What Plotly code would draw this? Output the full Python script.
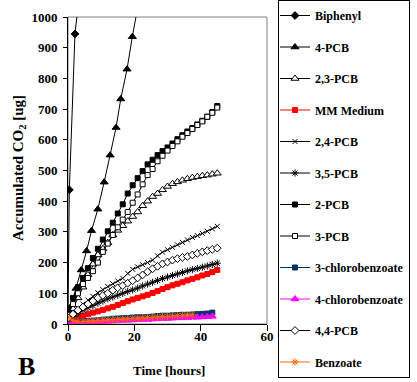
import plotly.graph_objects as go

# ---------------- data ----------------
t_grid = [0, 1.5, 3, 4.5, 6, 7.5, 9, 10.5, 12, 13.5, 15, 16.5, 18, 19.5, 21, 22.5,
          24, 25.5, 27, 28.5, 30, 31.5, 33, 34.5, 36, 37.5, 39, 40.5, 42, 43.5, 45]

biphenyl_t = [0, 0.4, 2.1, 3.5]
biphenyl_y = [40, 437, 945, 1080]

pcb4_t = [0, 0.8, 2.4, 4.0, 5.6, 7.1, 9.0, 10.9, 12.7, 14.5, 15.9, 17.8, 19.4, 21.0]
pcb4_y = [40, 56, 116, 176, 238, 304, 374, 462, 550, 640, 733, 830, 936, 1030]

pcb23_y = [25, 50, 85, 120, 160, 195, 225, 245, 265, 290, 305, 320, 335, 350, 365, 385,
           400, 415, 425, 437, 448, 457, 463, 468, 473, 477, 480, 483, 485, 488, 491]

mm_y = [8, 15, 22, 27, 32, 37, 41, 46, 51, 56, 62, 68, 74, 80, 85, 90,
        95, 101, 107, 114, 120, 126, 131, 136, 142, 147, 152, 158, 163, 169, 176]

pcb24_y = [25, 38, 52, 65, 78, 90, 102, 112, 122, 131, 140, 149, 165, 178, 186, 193,
           200, 208, 222, 234, 242, 250, 258, 266, 274, 282, 288, 295, 302, 310, 318]

pcb35_y = [15, 25, 35, 45, 53, 60, 68, 75, 82, 88, 94, 100, 106, 111, 117, 124,
           130, 136, 142, 148, 153, 158, 163, 168, 173, 177, 181, 185, 189, 194, 198]

pcb2_y = [40, 85, 120, 150, 182, 215, 245, 275, 302, 330, 360, 390, 425, 452, 475, 498,
          520, 535, 550, 563, 575, 588, 602, 615, 627, 638, 650, 662, 675, 690, 710]

pcb3_y = [30, 65, 100, 130, 150, 172, 200, 235, 262, 290, 315, 340, 365, 395, 422, 455,
          485, 505, 530, 548, 565, 580, 595, 610, 622, 635, 648, 660, 675, 688, 705]

cb3_t = t_grid[:30]
cb3_y = [5, 6, 8, 9, 10, 11, 12, 14, 15, 17, 18, 19, 20, 21, 22, 22,
         23, 24, 26, 27, 27, 28, 29, 30, 30, 31, 32, 33, 34, 37]

cb4_t = t_grid[:30]
cb4_y = [0, 2, 3, 4, 5, 6, 7, 8, 9, 10, 11, 12, 12, 13, 14, 15,
         15, 16, 17, 18, 18, 19, 20, 20, 21, 22, 22, 23, 24, 25]

pcb44_y = [20, 32, 45, 55, 65, 75, 85, 93, 100, 110, 118, 125, 133, 141, 150, 160,
           170, 180, 188, 196, 202, 208, 213, 217, 220, 225, 230, 235, 239, 243, 247]

benz_t = t_grid[:26]
benz_y = [22, 12, 8, 8, 9, 10, 11, 12, 13, 14, 15, 16, 17, 18, 19, 20,
          21, 22, 23, 24, 25, 26, 27, 28, 29, 30]

x_ticks = [0, 20, 40, 60]
y_ticks = [0, 100, 200, 300, 400, 500, 600, 700, 800, 900, 1000]

# ---------------- figure ----------------
FONT = "Liberation Serif"
fig = go.Figure()

def add(name, x, y, symbol, color="black", size=5, fill=None, lw=1, mlw=1):
    mk = dict(symbol=symbol, size=size, color=fill if fill is not None else color,
              line=dict(color=color, width=mlw))
    fig.add_trace(go.Scatter(x=x, y=y, name="<b>" + name + "</b>", mode="lines+markers",
                             line=dict(color=color, width=lw), marker=mk,
                             legendgroup=name))

add("Biphenyl", biphenyl_t, biphenyl_y, "diamond", size=6)
add("4-PCB", pcb4_t, pcb4_y, "triangle-up", size=7)
add("2,3-PCB", t_grid, pcb23_y, "triangle-up", size=7, fill="white")
add("MM Medium", t_grid, mm_y, "square", color="#ff0000", size=5)
add("2,4-PCB", t_grid, pcb24_y, "x-thin-open", size=5)
add("3,5-PCB", t_grid, pcb35_y, "asterisk-open", size=6)
add("2-PCB", t_grid, pcb2_y, "square", size=5)
add("3-PCB", t_grid, pcb3_y, "square", size=5, fill="white")
add("3-chlorobenzoate", cb3_t, cb3_y, "square", color="#003366", size=5)
add("4-chlorobenzoate", cb4_t, cb4_y, "triangle-up", color="#ff00ff", size=7)
add("4,4-PCB", t_grid, pcb44_y, "diamond", size=6, fill="white")
add("Benzoate", benz_t, benz_y, "asterisk-open", color="#ff6600", size=6)

axis_font = dict(family=FONT, size=13, color="black")

fig.update_layout(
    width=417, height=382,
    margin=dict(l=68, r=150, t=17, b=58, autoexpand=False),
    paper_bgcolor="white", plot_bgcolor="white",
    showlegend=True,
    legend=dict(
        xref="container", yref="container",
        x=278 / 417, y=1.01, xanchor="left", yanchor="top",
        bordercolor="black", borderwidth=1, bgcolor="white",
        font=dict(family=FONT, size=12, color="black"),
        traceorder="grouped", tracegroupgap=12.5, maxheight=600,
        indentation=-4,
    ),
    xaxis=dict(range=[0, 60], tickvals=x_ticks, ticktext=["<b>%d</b>" % v for v in x_ticks],
               showgrid=False, zeroline=False, automargin=False,
               showline=True, linecolor="black", linewidth=1,
               ticks="outside", ticklen=6, tickcolor="black",
               tickfont=axis_font, ticklabelstandoff=-6),
    yaxis=dict(range=[0, 1000], tickvals=y_ticks, ticktext=["<b>%d</b>" % v for v in y_ticks],
               showgrid=False, zeroline=False, automargin=False,
               showline=True, linecolor="black", linewidth=1,
               ticks="outside", ticklen=4, tickcolor="black",
               tickfont=axis_font, ticklabelstandoff=3),
    shapes=[dict(type="rect", xref="paper", yref="paper", x0=0, y0=0, x1=1, y1=1,
                 line=dict(color="#808080", width=1), layer="below")],
    annotations=[
        dict(text="<b>Accumulated CO<sub>2</sub> [ug]</b>", xref="paper", yref="paper",
             x=(19 - 68) / 199, y=(324 - 168) / 307, textangle=-90, showarrow=False,
             xanchor="center", yanchor="middle",
             font=dict(family=FONT, size=15, color="black")),
        dict(text="<b>Time [hours]</b>", xref="paper", yref="paper",
             x=(168.5 - 68) / 199, y=(324 - 370) / 307, showarrow=False,
             xanchor="center", yanchor="middle",
             font=dict(family=FONT, size=13, color="black")),
        dict(text="<b>B</b>", xref="paper", yref="paper",
             x=(26 - 68) / 199, y=(324 - 366) / 307, showarrow=False,
             xanchor="center", yanchor="middle",
             font=dict(family=FONT, size=26, color="black")),
    ],
)

fig.write_html("out.html", config={"displayModeBar": False},
               post_script="document.body.style.margin='0';document.body.style.overflow='hidden';")
